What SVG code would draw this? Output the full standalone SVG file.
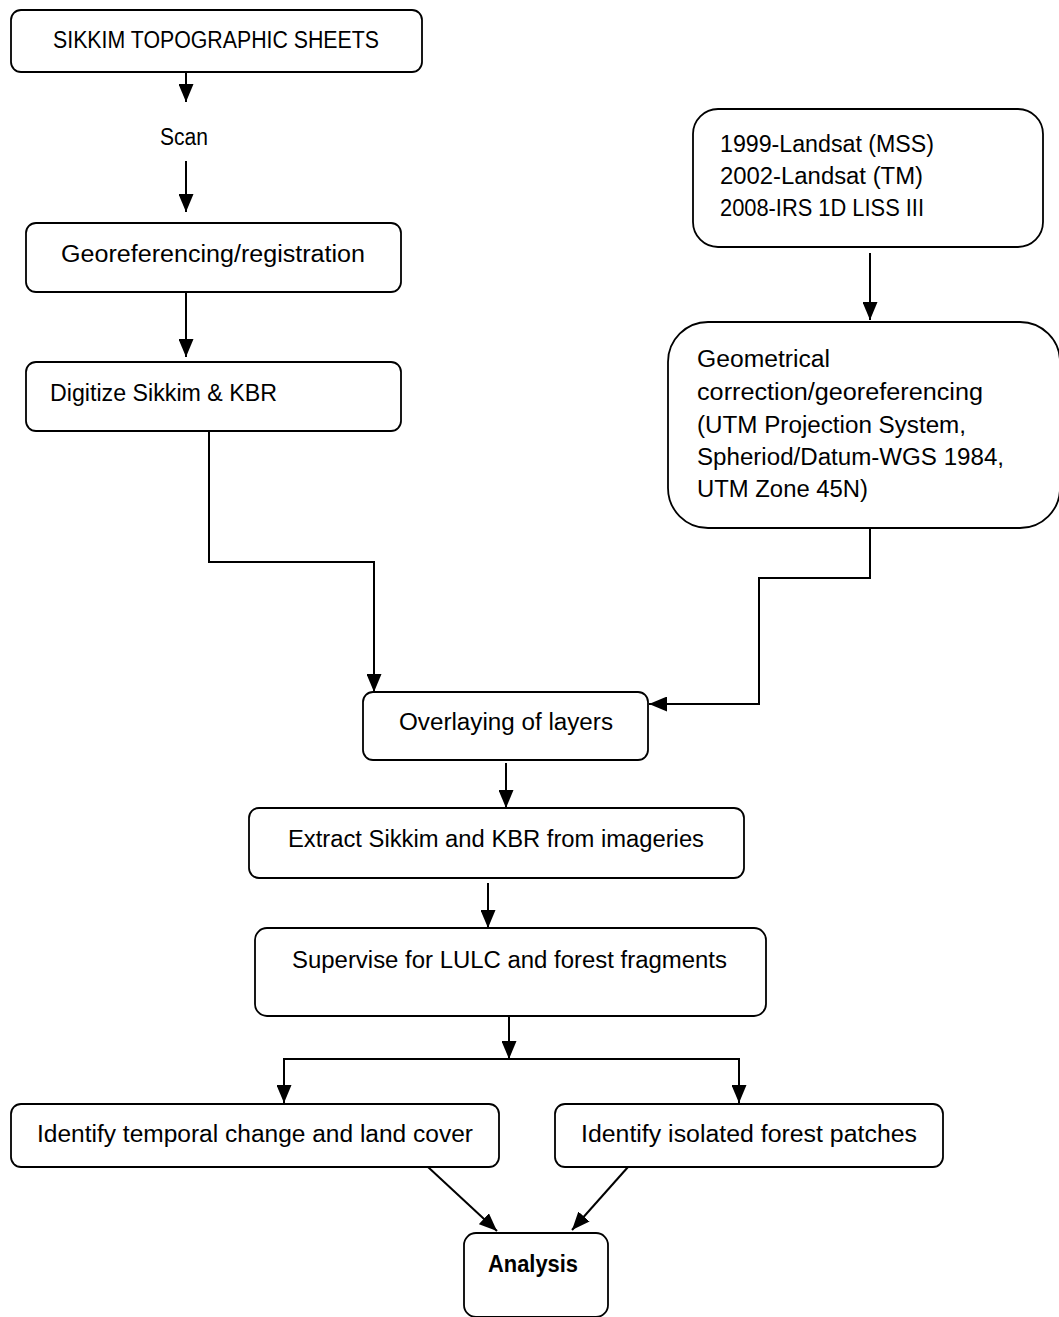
<svg xmlns="http://www.w3.org/2000/svg" width="1059" height="1317" viewBox="0 0 1059 1317">
<style>
.box{fill:#fff;stroke:#000;stroke-width:1.8}
.t{font-family:"Liberation Sans",Arial,sans-serif;font-size:23px;fill:#000}
.b{font-weight:bold}
.c{fill:none;stroke:#000;stroke-width:2}
</style>
<defs>
<marker id="ah" viewBox="0 0 18 15" refX="18" refY="7.5" markerWidth="18" markerHeight="15" markerUnits="userSpaceOnUse" orient="auto">
<path d="M0,0 L18,7.5 L0,15 z" fill="#000"/>
</marker>
</defs>
<rect width="1059" height="1317" fill="#fff"/>
<g id="connectors">
<path class="c" d="M186,72 V102" marker-end="url(#ah)"/>
<path class="c" d="M186,161 V212" marker-end="url(#ah)"/>
<path class="c" d="M186,292 V357" marker-end="url(#ah)"/>
<path class="c" d="M209,431 V562 H374 V692" marker-end="url(#ah)"/>
<path class="c" d="M870,253 V320" marker-end="url(#ah)"/>
<path class="c" d="M870,528 V578 H759 V704 H649" marker-end="url(#ah)"/>
<path class="c" d="M506,763 V808" marker-end="url(#ah)"/>
<path class="c" d="M488,883 V928" marker-end="url(#ah)"/>
<path class="c" d="M509,1016 V1059" marker-end="url(#ah)"/>
<path class="c" d="M284,1103 V1059 H739 V1103" marker-end="url(#ah)"/>
<path class="c" d="M284,1059 V1103" marker-end="url(#ah)"/>
<path class="c" d="M428,1167 L497,1231" marker-end="url(#ah)"/>
<path class="c" d="M628,1167 L572,1230" marker-end="url(#ah)"/>
</g>
<g id="n-topo">
<rect class="box" x="11" y="10" width="411" height="62" rx="10"/>
<text class="t" x="53" y="48" textLength="326" lengthAdjust="spacingAndGlyphs">SIKKIM TOPOGRAPHIC SHEETS</text>
</g>
<g id="n-scan">
<text class="t" x="160" y="145" textLength="48" lengthAdjust="spacingAndGlyphs">Scan</text>
</g>
<g id="n-georef">
<rect class="box" x="26" y="223" width="375" height="69" rx="10"/>
<text class="t" x="61" y="262" textLength="304" lengthAdjust="spacingAndGlyphs">Georeferencing/registration</text>
</g>
<g id="n-digitize">
<rect class="box" x="26" y="362" width="375" height="69" rx="10"/>
<text class="t" x="50" y="401" textLength="227" lengthAdjust="spacingAndGlyphs">Digitize Sikkim &amp; KBR</text>
</g>
<g id="n-landsat">
<rect class="box" x="693" y="109" width="350" height="138" rx="25"/>
<text class="t" x="720" y="152" textLength="214" lengthAdjust="spacingAndGlyphs">1999-Landsat (MSS)</text>
<text class="t" x="720" y="184" textLength="203" lengthAdjust="spacingAndGlyphs">2002-Landsat (TM)</text>
<text class="t" x="720" y="216" textLength="204" lengthAdjust="spacingAndGlyphs">2008-IRS 1D LISS III</text>
</g>
<g id="n-geometric">
<rect class="box" x="668" y="322" width="392" height="206" rx="40"/>
<text class="t" x="697" y="367" textLength="133" lengthAdjust="spacingAndGlyphs">Geometrical</text>
<text class="t" x="697" y="400" textLength="286" lengthAdjust="spacingAndGlyphs">correction/georeferencing</text>
<text class="t" x="697" y="433" textLength="269" lengthAdjust="spacingAndGlyphs">(UTM Projection System,</text>
<text class="t" x="697" y="465" textLength="307" lengthAdjust="spacingAndGlyphs">Spheriod/Datum-WGS 1984,</text>
<text class="t" x="697" y="497" textLength="171" lengthAdjust="spacingAndGlyphs">UTM Zone 45N)</text>
</g>
<g id="n-overlay">
<rect class="box" x="363" y="692" width="285" height="68" rx="10"/>
<text class="t" x="399" y="730" textLength="214" lengthAdjust="spacingAndGlyphs">Overlaying of layers</text>
</g>
<g id="n-extract">
<rect class="box" x="249" y="808" width="495" height="70" rx="10"/>
<text class="t" x="288" y="847" textLength="416" lengthAdjust="spacingAndGlyphs">Extract Sikkim and KBR from imageries</text>
</g>
<g id="n-supervise">
<rect class="box" x="255" y="928" width="511" height="88" rx="12"/>
<text class="t" x="292" y="968" textLength="435" lengthAdjust="spacingAndGlyphs">Supervise for LULC and forest fragments</text>
</g>
<g id="n-temporal">
<rect class="box" x="11" y="1104" width="488" height="63" rx="10"/>
<text class="t" x="37" y="1142" textLength="436" lengthAdjust="spacingAndGlyphs">Identify temporal change and land cover</text>
</g>
<g id="n-isolated">
<rect class="box" x="555" y="1104" width="388" height="63" rx="10"/>
<text class="t" x="581" y="1142" textLength="336" lengthAdjust="spacingAndGlyphs">Identify isolated forest patches</text>
</g>
<g id="n-analysis">
<rect class="box" x="464" y="1233" width="144" height="84" rx="12"/>
<text class="t b" x="488" y="1272" textLength="90" lengthAdjust="spacingAndGlyphs">Analysis</text>
</g>
</svg>
